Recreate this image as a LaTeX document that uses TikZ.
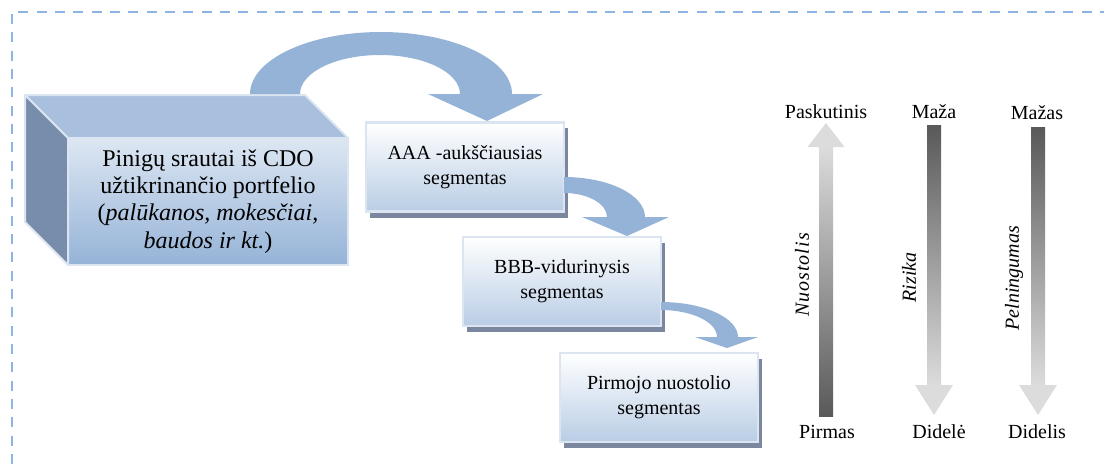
\documentclass[tikz,border=0pt]{standalone}
\usepackage{fontspec}
\setmainfont{Liberation Serif}
\usetikzlibrary{positioning,calc,shadows}

\definecolor{framec}{RGB}{141,180,226}
\definecolor{flowc}{RGB}{149,179,215}
\definecolor{cubetop}{RGB}{221,231,243}
\definecolor{cubebot}{RGB}{149,179,215}
\definecolor{cubelid}{RGB}{169,191,222}
\definecolor{cubeside}{RGB}{120,141,172}
\definecolor{edgec}{RGB}{219,229,241}
\definecolor{segbot}{RGB}{185,205,229}
\definecolor{shadowc}{RGB}{122,135,158}
\definecolor{lightg}{RGB}{220,220,220}
\definecolor{darkg}{RGB}{89,89,89}

\begin{document}
\begin{tikzpicture}[x=0.75pt,y=-0.75pt,on grid,
    segment/.style={draw=edgec,line width=1.8pt,top color=white,bottom color=segbot,
      minimum width=148.5pt,minimum height=67pt,inner sep=0pt,outer sep=0pt,align=center,
      font=\fontsize{15}{18.5}\selectfont,
      drop shadow={shadow xshift=3pt,shadow yshift=-4.5pt,opacity=1,fill=shadowc}},
    cube/.style={draw=edgec,line width=1.5pt,top color=cubetop,bottom color=cubebot,
      minimum width=210pt,minimum height=95.25pt,inner sep=0pt,outer sep=0pt,align=center,
      font=\fontsize{18}{20.5}\selectfont},
    face/.style={draw=edgec,line width=1.5pt,line join=round},
    flow/.style={fill=flowc},
    end label/.style={font=\fontsize{15}{18}\selectfont,inner sep=0pt},
    axis label/.style={font=\fontsize{15}{18}\selectfont\itshape,rotate=90,inner sep=0pt}]
    \useasboundingbox (0,0) rectangle (1104,465);
    \draw[framec,line width=2.2pt,dash pattern=on 7.5pt off 6.25pt] (1110,12) -- (12,12) -- (12,470);

    % cash flow block
    \node[cube] (cube) at (208,201.5) {Pinigų srautai iš CDO\\ užtikrinančio portfelio\\
      (\textit{palūkanos, mokesčiai,}\\ \textit{baudos ir kt.})};
    \fill[cubelid,face] (cube.north west) -- ++(-43,-43) -- ++(280,0) -- (cube.north east) -- cycle;
    \fill[cubeside,face] (cube.north west) -- ++(-43,-43) -- ++(0,127) -- (cube.south west) -- cycle;

    % segments
    \node[segment] (aaa) at (465,167) {AAA -aukščiausias\\ segmentas};
    \node[segment] (bbb) [below right=85.9pt and 72.75pt of aaa] {BBB-vidurinysis\\ segmentas};
    \node[segment] (first) [below right=87pt and 72.75pt of bbb] {Pirmojo nuostolio\\ segmentas};

    % curved flows
    \begin{scope}[shift={(cube.north)}]
      \fill[flow] (42,-44) arc[start angle=180,end angle=360,x radius=131,y radius=62]
        -- (335,-44) -- (279,-17) -- (220,-44) -- (252,-44)
        arc[start angle=360,end angle=180,x radius=80,y radius=39] -- cycle;
    \end{scope}
    \begin{scope}[shift={(aaa.east)}]
      \fill[flow] (0,10) arc[start angle=270,end angle=360,x radius=81,y radius=40]
        -- (105,50) -- (63,69) -- (18,50) -- (43,50)
        arc[start angle=360,end angle=270,x radius=43,y radius=24] -- cycle;
    \end{scope}
    \begin{scope}[shift={(bbb.east)}]
      \fill[flow] (0,20.5) arc[start angle=270,end angle=360,x radius=77,y radius=35]
        -- (97,55.5) -- (66,66.5) -- (34,55.5) -- (56,55.5)
        arc[start angle=360,end angle=270,x radius=56,y radius=27] -- cycle;
    \end{scope}

    % scales
    \node[end label] (last)   at (826,112) {Paskutinis};
    \node[end label] (firstl) at (827,432) {Pirmas};
    \node[end label] (lowr)   at (934,112) {Maža};
    \node[end label] (highr)  at (939,432) {Didelė};
    \node[end label] (lowp)   at (1037,113) {Mažas};
    \node[end label] (highp)  at (1037,432) {Didelis};

    \coordinate (losstip) at (826,123);
    \coordinate (risktip) at (934,415);
    \coordinate (gaintip) at (1038,415);
    \shade[top color=lightg,bottom color=darkg] (819,146) rectangle (833,416);
    \fill[lightg] (losstip) -- ++(18.5,24) -- ++(-37,0) -- cycle;
    \shade[top color=darkg,bottom color=lightg] (927,125) rectangle (941,386);
    \fill[lightg] (risktip) -- ++(19,-30) -- ++(-38,0) -- cycle;
    \shade[top color=darkg,bottom color=lightg] (1031,127) rectangle (1045,386);
    \fill[lightg] (gaintip) -- ++(19,-30) -- ++(-38,0) -- cycle;

    \node[axis label] (loss) at (802,275) {\addfontfeature{LetterSpace=5}Nuostolis};
    \node[axis label] (risk) at (909,277.5) {Rizika};
    \node[axis label] (gain) at (1014,278) {Pelningumas};
\end{tikzpicture}
\end{document}
